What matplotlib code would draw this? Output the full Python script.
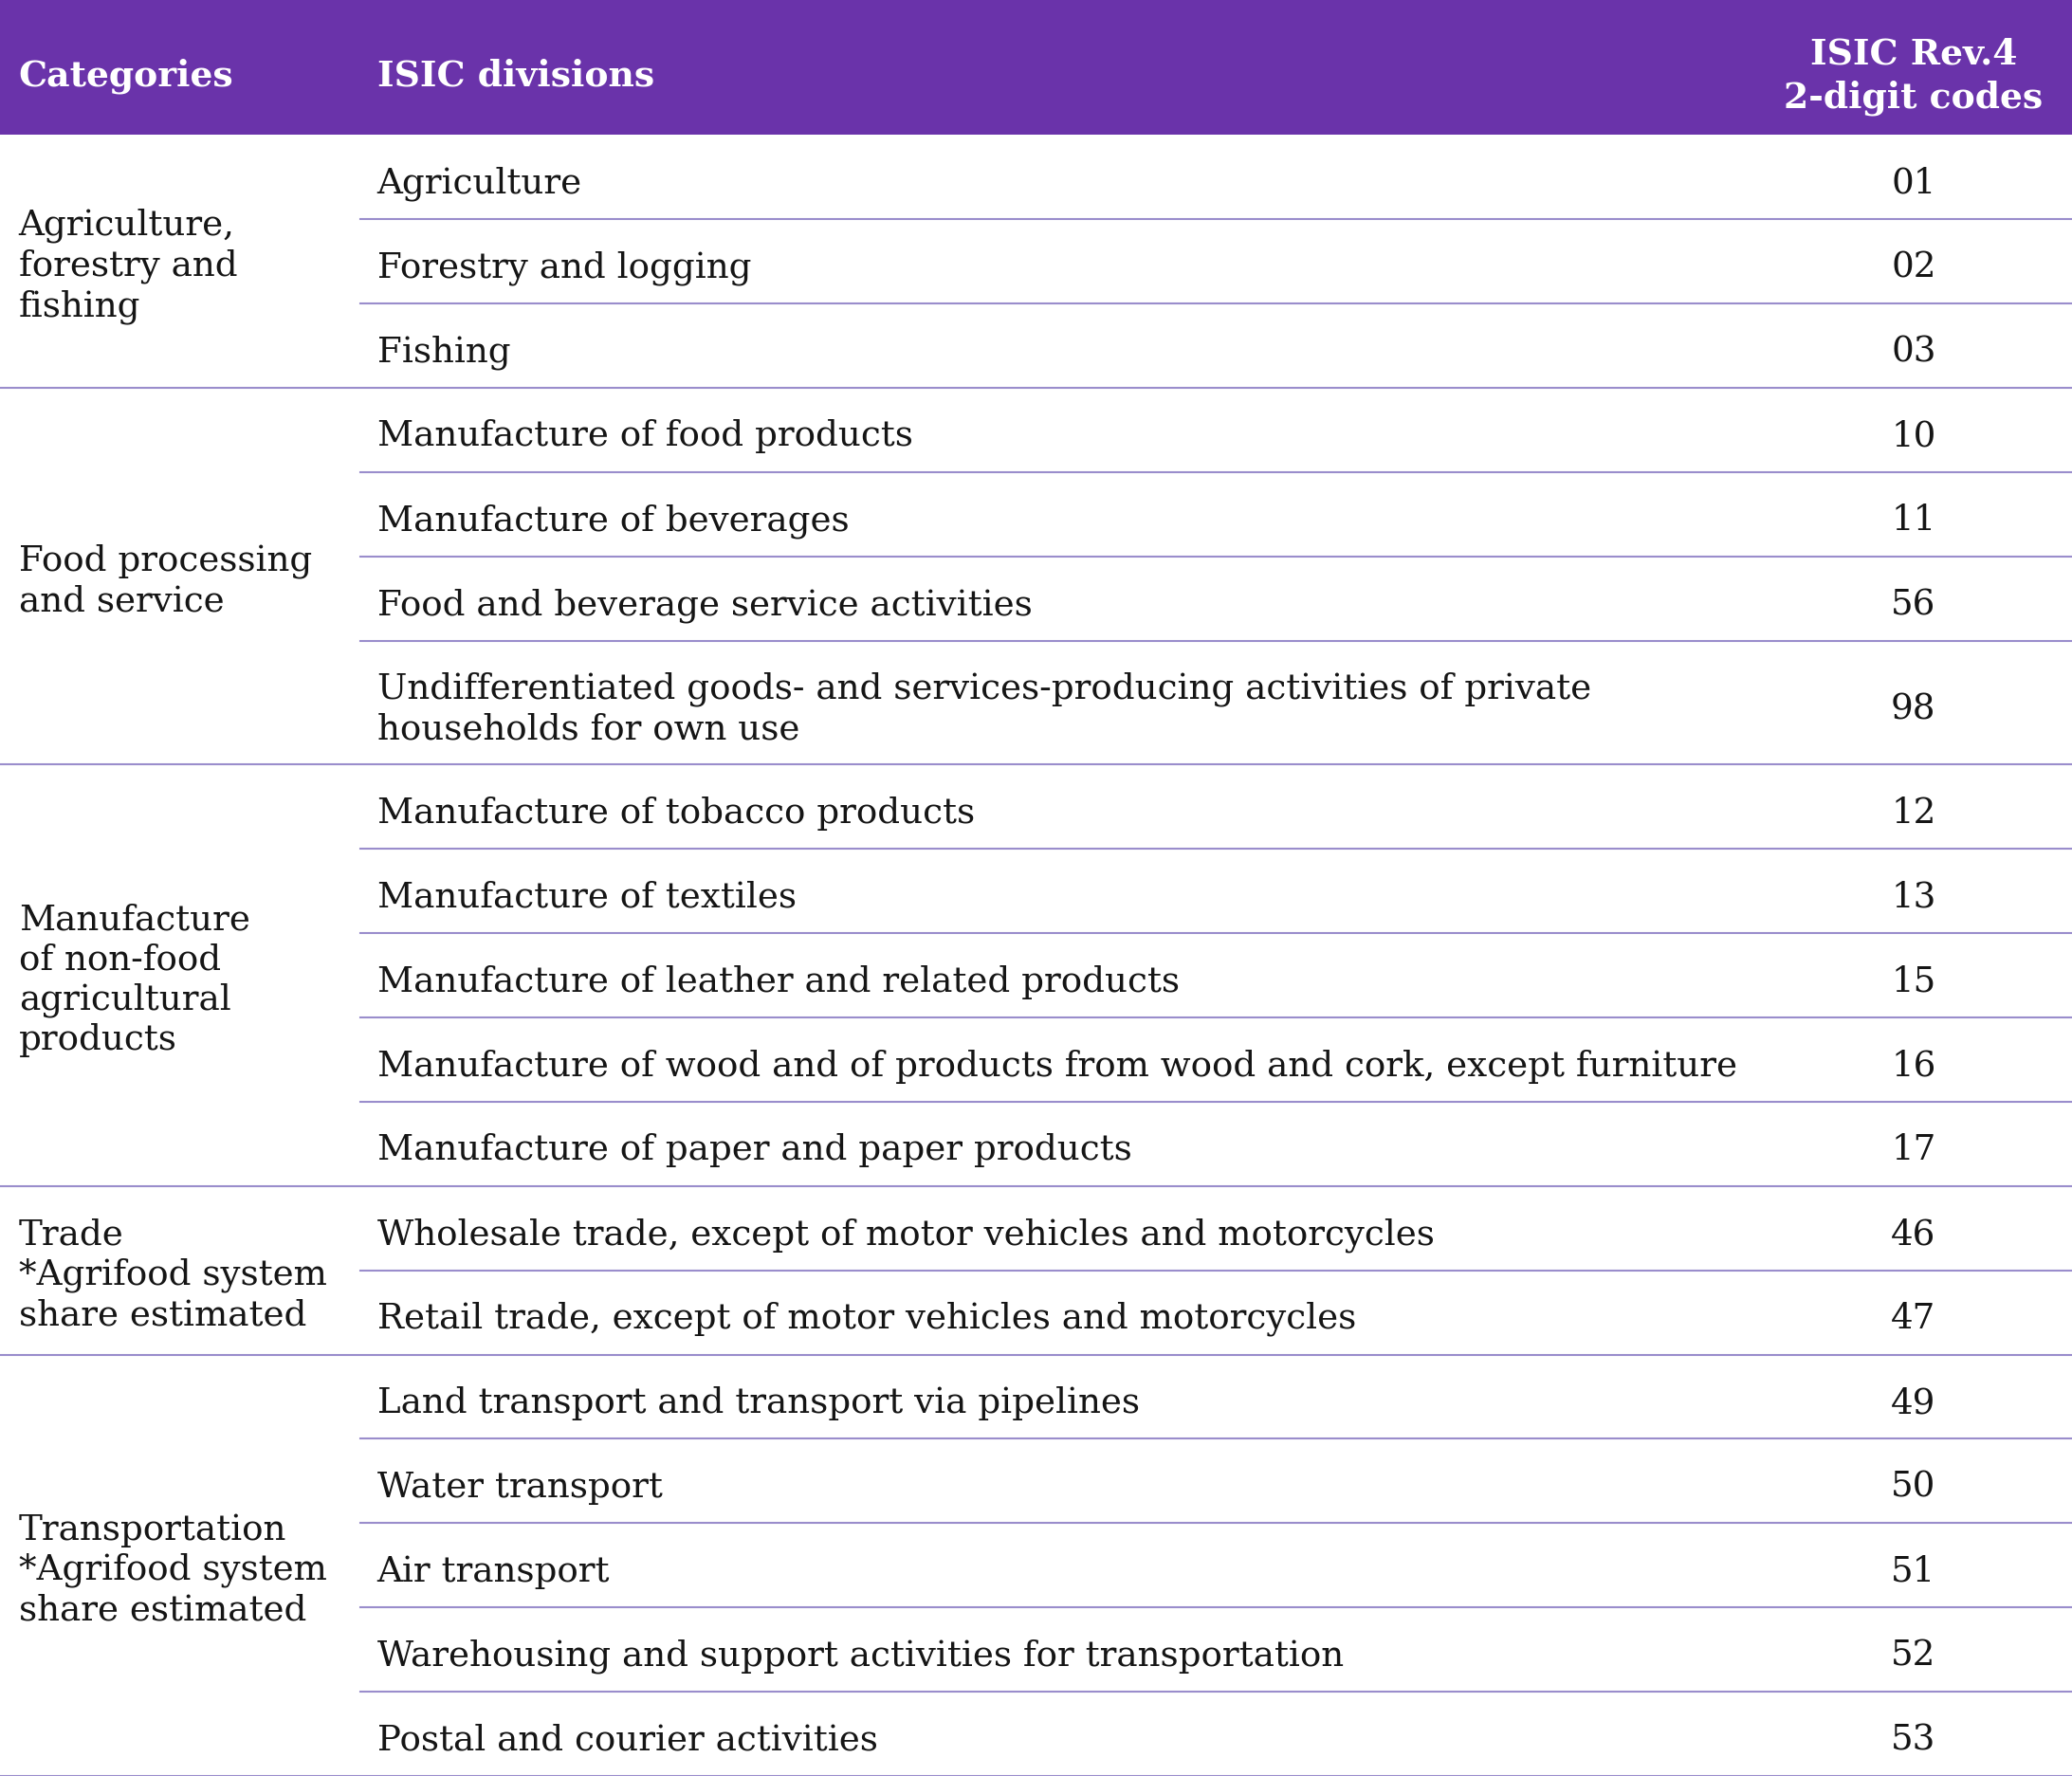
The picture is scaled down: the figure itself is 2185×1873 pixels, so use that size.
import matplotlib.pyplot as plt
from matplotlib.patches import Rectangle

# table content
headers = ["Categories", "ISIC divisions", "ISIC Rev.4\n2-digit codes"]

categories = [
    "Agriculture,\nforestry and\nfishing",
    "Food processing\nand service",
    "Manufacture\nof non-food\nagricultural\nproducts",
    "Trade\n*Agrifood system\nshare estimated",
    "Transportation\n*Agrifood system\nshare estimated",
]

divisions = [
    ["Agriculture", "Forestry and logging", "Fishing"],
    ["Manufacture of food products", "Manufacture of beverages",
     "Food and beverage service activities",
     "Undifferentiated goods- and services-producing activities of private\nhouseholds for own use"],
    ["Manufacture of tobacco products", "Manufacture of textiles",
     "Manufacture of leather and related products",
     "Manufacture of wood and of products from wood and cork, except furniture",
     "Manufacture of paper and paper products"],
    ["Wholesale trade, except of motor vehicles and motorcycles",
     "Retail trade, except of motor vehicles and motorcycles"],
    ["Land transport and transport via pipelines", "Water transport", "Air transport",
     "Warehousing and support activities for transportation",
     "Postal and courier activities"],
]

codes = [
    ["01", "02", "03"],
    ["10", "11", "56", "98"],
    ["12", "13", "15", "16", "17"],
    ["46", "47"],
    ["49", "50", "51", "52", "53"],
]

# layout (row units / axes fractions)
HEADER_H = 1.6
ROW_H = 1.0
EXTRA_LINE_H = 0.47
COL_X = [0.009, 0.182, 0.9235]
SUBLINE_X0 = 0.174
HEADER_COLOR = "#6a33aa"
LINE_COLOR = "#9a8dcc"
TEXT_COLOR = "#151515"
FONT = "DejaVu Serif"
FS = 26.8
HFS = 27.2
LS = 1.22


def row_height(text):
    return ROW_H + EXTRA_LINE_H * text.count("\n")


total = HEADER_H + sum(row_height(d) for grp in divisions for d in grp)

fig = plt.figure(figsize=(21.85, 18.73), dpi=100)
ax = fig.add_axes([0, 0, 1, 1])
ax.set_xlim(0, 1)
ax.set_ylim(total, 0)
ax.axis("off")

# header
hy = HEADER_H / 2 + 0.10
ax.add_patch(Rectangle((0, 0), 1, HEADER_H, color=HEADER_COLOR, lw=0))
ax.text(COL_X[0], hy, headers[0], color="white", fontsize=HFS,
        fontweight="bold", family=FONT, va="center", ha="left")
ax.text(COL_X[1], hy, headers[1], color="white", fontsize=HFS,
        fontweight="bold", family=FONT, va="center", ha="left")
ax.text(COL_X[2], hy, headers[2], color="white", fontsize=HFS,
        fontweight="bold", family=FONT, va="center", ha="center", linespacing=1.3,
        multialignment="center")

# body
y = HEADER_H
for cat, divs, cds in zip(categories, divisions, codes):
    y0 = y
    for i, (d, c) in enumerate(zip(divs, cds)):
        h = row_height(d)
        yc = y + h / 2 + 0.08
        ax.text(COL_X[1], yc, d, color=TEXT_COLOR, fontsize=FS, family=FONT,
                va="center", ha="left", linespacing=LS)
        ax.text(COL_X[2], yc, c, color=TEXT_COLOR, fontsize=FS, family=FONT,
                va="center", ha="center")
        y += h
        if i < len(divs) - 1:
            ax.plot([SUBLINE_X0, 1], [y, y], color=LINE_COLOR, lw=1.5)
    ax.text(COL_X[0], (y0 + y) / 2 + 0.06, cat, color=TEXT_COLOR, fontsize=FS,
            family=FONT, va="center", ha="left", linespacing=LS)
    ax.plot([0, 1], [y, y], color=LINE_COLOR, lw=1.5, clip_on=False)

fig.savefig("out.png", dpi=100)
